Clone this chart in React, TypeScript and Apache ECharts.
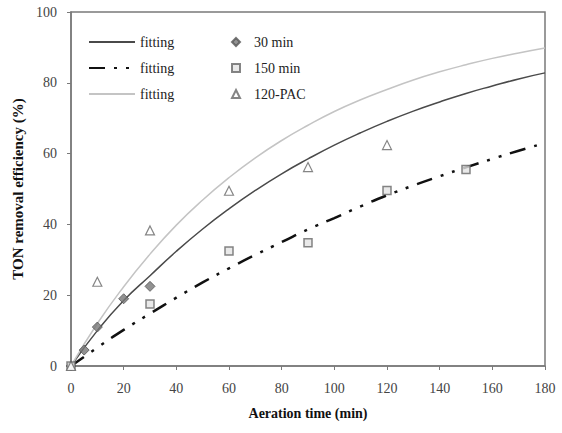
import React, { useEffect, useRef } from "react";
import * as echarts from "echarts";

const fitTimes = [0, 10, 20, 30, 40, 50, 60, 70, 80, 90, 100, 110, 120, 130, 140, 150, 160, 170, 180];
const fit30 = [0, 10, 18.5, 25.5, 32.4, 38.7, 44.4, 49.6, 54.3, 58.5, 62.4, 65.9, 69.1, 72, 74.6, 77, 79.1, 81.1, 82.8];
const fit150 = [0, 5.2, 10.2, 14.8, 19.3, 23.6, 27.6, 31.4, 35, 38.6, 41.8, 45.1, 48.2, 51, 53.6, 56.1, 58.5, 60.8, 63];
const fitPAC = [0, 12, 22.4, 31.6, 39.8, 46.9, 53.2, 58.8, 63.7, 68, 71.9, 75.2, 78.1, 80.8, 83.1, 85.1, 86.9, 88.4, 89.8];

const t30 = [0, 5, 10, 20, 30];
const y30 = [0, 4.5, 11, 19, 22.5];
const t150 = [0, 30, 60, 90, 120, 150];
const y150 = [0, 17.5, 32.5, 34.8, 49.6, 55.5];
const tPAC = [0, 10, 30, 60, 90, 120];
const yPAC = [0, 23.8, 38.3, 49.5, 56.2, 62.4];

const xTicks = [0, 20, 40, 60, 80, 100, 120, 140, 160, 180];
const yTicks = [0, 20, 40, 60, 80, 100];

const FONT = "'Liberation Serif', 'Times New Roman', serif";

const pairs = (xs: number[], ys: number[]) => xs.map((x, i) => [x, ys[i]]);

export default function App() {
  const ref = useRef<HTMLDivElement>(null);
  useEffect(() => {
    if (!ref.current) return;
    const chart = echarts.init(ref.current, null, { renderer: "svg" });
    const fitName = (n: string) => (n.startsWith("fitting") ? "fitting" : n);
    chart.setOption({
      animation: false,
      backgroundColor: "#ffffff",
      grid: {
        left: 71,
        right: 17,
        top: 12,
        bottom: 67,
        show: true,
        borderColor: "#7a7a7a",
        borderWidth: 1.5,
      },
      legend: [
        {
          data: ["fitting-30", "fitting-150", "fitting-PAC"],
          formatter: fitName,
          orient: "vertical",
          left: 83,
          top: 30,
          itemWidth: 46,
          itemHeight: 14,
          itemGap: 12,
          itemStyle: { opacity: 0 },
          textStyle: { fontFamily: FONT, fontSize: 14, lineHeight: 14, color: "#222" },
        },
        {
          data: ["30 min", "150 min", "120-PAC"],
          orient: "vertical",
          left: 226,
          top: 30,
          itemWidth: 8,
          itemHeight: 8,
          itemGap: 12,
          textStyle: { fontFamily: FONT, fontSize: 14, lineHeight: 14, color: "#222", padding: [0, 0, 0, 9] },
        },
      ],
      xAxis: {
        type: "value",
        min: 0,
        max: 180,
        interval: 20,
        name: "Aeration time (min)",
        nameLocation: "middle",
        nameGap: 40,
        nameTextStyle: { fontFamily: FONT, fontSize: 14, fontWeight: "bold", color: "#111" },
        axisLine: { lineStyle: { color: "#7a7a7a", width: 1.5 } },
        axisTick: { show: true, length: 4, lineStyle: { color: "#7a7a7a" } },
        axisLabel: {
          fontFamily: FONT,
          fontSize: 14,
          color: "#444",
          margin: 15,
          formatter: (v: number) => (xTicks.includes(v) ? String(v) : ""),
        },
        splitLine: { show: false },
      },
      yAxis: {
        type: "value",
        min: 0,
        max: 100,
        interval: 20,
        name: "TON removal efficiency (%)",
        nameLocation: "middle",
        nameRotate: 90,
        nameGap: 42,
        nameTextStyle: { fontFamily: FONT, fontSize: 15, fontWeight: "bold", color: "#111" },
        axisLine: { lineStyle: { color: "#7a7a7a", width: 1.5 } },
        axisTick: { show: true, length: 4, lineStyle: { color: "#7a7a7a" } },
        axisLabel: {
          fontFamily: FONT,
          fontSize: 14,
          color: "#444",
          margin: 14,
          formatter: (v: number) => (yTicks.includes(v) ? String(v) : ""),
        },
        splitLine: { show: false },
      },
      series: [
        {
          name: "fitting-30",
          type: "line",
          smooth: true,
          symbol: "none",
          data: pairs(fitTimes, fit30),
          lineStyle: { color: "#4a4a4a", width: 1.5 },
          itemStyle: { color: "#4a4a4a" },
          z: 2,
        },
        {
          name: "fitting-150",
          type: "line",
          smooth: true,
          symbol: "none",
          data: pairs(fitTimes, fit150),
          lineStyle: { color: "#111", width: 2.5, type: [16, 9, 3, 9, 3, 9] },
          itemStyle: { color: "#111" },
          z: 2,
        },
        {
          name: "fitting-PAC",
          type: "line",
          smooth: true,
          symbol: "none",
          data: pairs(fitTimes, fitPAC),
          lineStyle: { color: "#c4c4c4", width: 1.5 },
          itemStyle: { color: "#c4c4c4" },
          z: 2,
        },
        {
          name: "30 min",
          type: "scatter",
          symbol: "diamond",
          symbolSize: 10,
          data: pairs(t30, y30),
          itemStyle: { color: "#777", borderColor: "#555", borderWidth: 1 },
          z: 5,
        },
        {
          name: "150 min",
          type: "scatter",
          symbol: "rect",
          symbolSize: 8,
          data: pairs(t150, y150),
          itemStyle: { color: "#e4e4e4", borderColor: "#666", borderWidth: 1.5 },
          z: 5,
        },
        {
          name: "120-PAC",
          type: "scatter",
          symbol: "triangle",
          symbolSize: 9,
          data: pairs(tPAC, yPAC),
          itemStyle: { color: "#fff", borderColor: "#666", borderWidth: 1.2 },
          z: 5,
        },
      ],
    });
    return () => chart.dispose();
  }, []);
  return (
    <div
      ref={ref}
      style={{ position: "absolute", left: 0, top: 0, width: 562, height: 433 }}
    />
  );
}
